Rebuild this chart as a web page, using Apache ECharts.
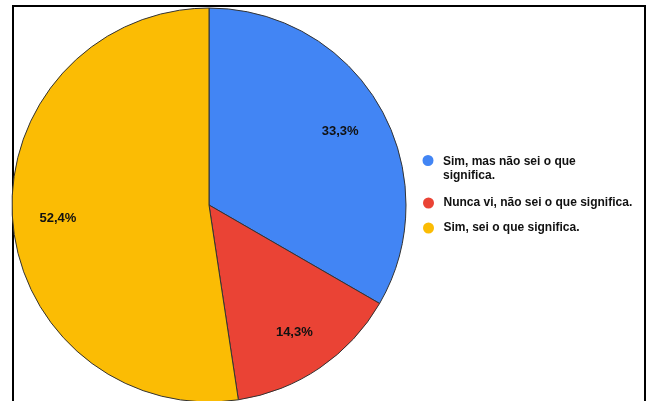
<!DOCTYPE html>
<html>
<head>
<meta charset="utf-8">
<script src="https://cdn.jsdelivr.net/npm/echarts@6/dist/echarts.min.js"></script>
<style>
    html, body { margin: 0; padding: 0; background: #fff; }
    #chart { width: 653px; height: 401px; }
</style>
</head>
<body>
<div id="chart"></div>
<script>
// data
const categories = ['Sim, mas não sei o que significa.', 'Nunca vi, não sei o que significa.', 'Sim, sei o que significa.']
const counts = [7, 3, 11]
const colors = ['#4285f4', '#ea4335', '#fbbc04']

const myEchart = echarts.init(document.getElementById('chart'))

const pieData = categories.map((name, i) => ({
    name: name,
    value: counts[i],
    itemStyle: { color: colors[i] }
}))

// circle drawn at the top of a taller box, so it lines up with the first text line
const topCircle = 'path://M4.5,5.5A5.5,5.5,0,1,1,15.5,5.5A5.5,5.5,0,1,1,4.5,5.5Z M0,28L20,28Z'

const legendText = {
    fontSize: 12,
    fontWeight: 'bold',
    color: '#111',
    lineHeight: 14,
    fontFamily: 'Liberation Sans, Arial, sans-serif'
}

const makeLegend = (name, left, top, icon, h) => ({
    orient: 'vertical',
    left: left,
    top: top,
    itemWidth: 20,
    itemHeight: h,
    icon: icon,
    itemStyle: { borderWidth: 0 },
    selectedMode: false,
    data: [name],
    formatter: n => n === categories[0] ? 'Sim, mas não sei o que\nsignifica.' : n,
    textStyle: legendText
})

const option = {
    animation: false,
    textStyle: { fontFamily: 'Liberation Sans, Arial, sans-serif' },
    graphic: [
        {
            type: 'rect',
            shape: { x: 13, y: 6, width: 632, height: 420 },
            style: { fill: 'none', stroke: '#000', lineWidth: 2 },
            z: -10
        }
    ],
    legend: [
        makeLegend(categories[0], 413, 150, topCircle, 28),
        makeLegend(categories[1], 418, 191, 'circle', 11),
        makeLegend(categories[2], 418, 216, 'circle', 11)
    ],
    series: [
        {
            type: 'pie',
            center: [209, 205],
            radius: 197,
            startAngle: 90,
            clockwise: true,
            label: { show: false },
            labelLine: { show: false },
            emphasis: { disabled: true },
            itemStyle: { borderColor: '#333', borderWidth: 1 },
            data: pieData
        },
        {
            // transparent ring only to place the percent labels further out
            type: 'pie',
            center: [209, 207],
            radius: [100, 197],
            startAngle: 90,
            clockwise: true,
            silent: true,
            legendHoverLink: false,
            itemStyle: { color: 'rgba(0,0,0,0)' },
            label: {
                show: true,
                position: 'inside',
                formatter: p => p.percent.toFixed(1).replace('.', ',') + '%',
                fontSize: 13,
                fontWeight: 'bold',
                color: '#111',
                fontFamily: 'Liberation Sans, Arial, sans-serif'
            },
            labelLine: { show: false },
            emphasis: { disabled: true },
            data: categories.map((name, i) => ({ name: name + ' ', value: counts[i] }))
        }
    ]
}

myEchart.setOption(option)
</script>
</body>
</html>
